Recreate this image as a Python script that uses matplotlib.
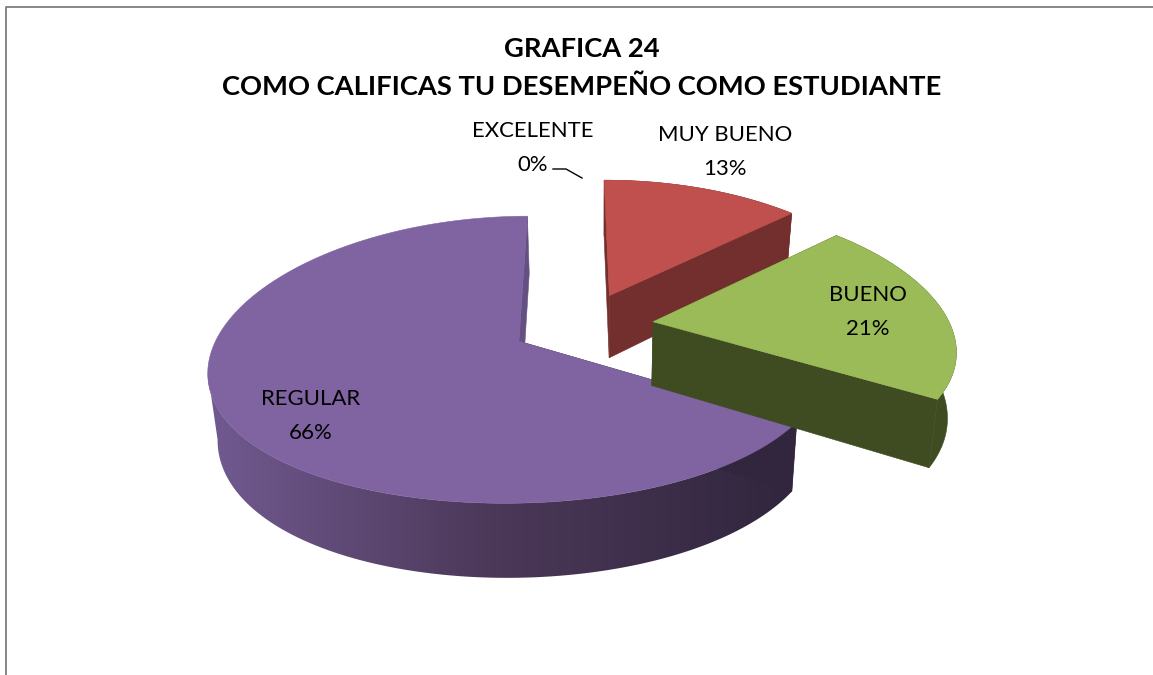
import numpy as np
import matplotlib
matplotlib.use("Agg")
import matplotlib.pyplot as plt
from matplotlib.patches import Polygon
from matplotlib.colors import to_rgb

categories = ["EXCELENTE", "MUY BUENO", "BUENO", "REGULAR"]
values = [0, 13, 21, 66]
title_lines = ["GRAFICA 24", "COMO CALIFICAS TU DESEMPEÑO COMO ESTUDIANTE"]
top_colors = ["#4BACC6", "#BF504D", "#9BBB59", "#8063A1"]
side_colors = ["#2B6A7A", "#722F2D", "#3F4C21", None]
cut_colors = ["#2B6A7A", "#722F2D", "#3F4C21", "#655084"]
label_pos = [(533, 148), (725, 152), (868, 312), (311, 416)]

W, H = 1153, 675
CX, CY, RX, RY, PERSP, PERSP_X, DEPTH, EXPL, BOT_SCALE, BOT_X = 582.5, 325, 297, 137, 0.127, 0.18, 64, 0.24, 0.975, 600
START_ANGLE = 90.3
FONT = "Lato"

fig = plt.figure(figsize=(W / 100, H / 100), dpi=100)
ax = fig.add_axes([0, 0, 1, 1])

ax.plot([5.5, 5.5, W], [H, 6.5, 6.5], color="#868686", lw=1.4, solid_capstyle="butt")


def project(X, Y, bottom=False):
    w = 1 + PERSP * Y
    sx = CX + RX * X / (1 + PERSP_X * Y)
    sy = CY - RY * Y / w
    if bottom:
        sx = BOT_X + (sx - BOT_X) * BOT_SCALE
        sy = sy + DEPTH / w
    return sx, sy


def gradient_image():
    stops_x = [215, 490, 790]
    stops_c = np.array([to_rgb("#70598F"), to_rgb("#4C3859"), to_rgb("#31263E")])
    xs = np.arange(W)
    return np.stack([np.interp(xs, stops_x, stops_c[:, i]) for i in range(3)], axis=-1)[None, :, :]


def draw_slice(start, sweep, top, side, cut):
    mid = np.radians(start - sweep / 2)
    ox, oy = EXPL * np.cos(mid), EXPL * np.sin(mid)
    t = np.radians(np.linspace(start, start - sweep, max(int(sweep), 2) * 2 + 1))
    X, Y = ox + np.cos(t), oy + np.sin(t)
    tx, ty = project(X, Y)
    bx, by = project(X, Y, True)
    ax0, ay0 = project(np.array([ox]), np.array([oy]))
    bx0, by0 = project(np.array([ox]), np.array([oy]), True)
    first_cut = side if side else "#31263E"
    for i, c in ((0, first_cut), (-1, cut)):
        ax.add_patch(Polygon([(ax0[0], ay0[0]), (tx[i], ty[i]), (bx[i], by[i]), (bx0[0], by0[0])],
                             closed=True, fc=c, ec=c, lw=0.4))
    if side:
        rim = np.column_stack([np.r_[tx, bx[::-1]], np.r_[ty, by[::-1]]])
        ax.add_patch(Polygon(rim, closed=True, fc=side, ec=side, lw=0.4))
    else:
        k = max(np.argmin(tx), np.argmin(bx)) + 1
        rim = np.column_stack([np.r_[tx[:k], bx[:k][::-1]], np.r_[ty[:k], by[:k][::-1]]])
        clip = Polygon(rim, closed=True, transform=ax.transData)
        im = ax.imshow(gradient_image(), extent=(0, W, H, 0), aspect="auto", interpolation="bilinear")
        im.set_clip_path(clip)
    ax.add_patch(Polygon(np.column_stack([np.r_[ax0, tx], np.r_[ay0, ty]]), closed=True, fc=top, ec=top, lw=0.4))


starts, acc = [], START_ANGLE
for v in values:
    starts.append(acc)
    acc -= v * 3.6

for i in [1, 3, 2]:
    draw_slice(starts[i], values[i] * 3.6, top_colors[i], side_colors[i], cut_colors[i])

ax.set_xlim(0, W)
ax.set_ylim(H, 0)
ax.axis("off")

for cat, v, (x, y) in zip(categories, values, label_pos):
    ax.text(x, y, f"{cat}\n{v}%", ha="center", va="center", fontsize=15.9, family=FONT,
            color="black", linespacing=1.85)

ax.plot([553, 566, 582], [169, 169, 178], color="black", lw=1.0)

ax.text(582, 68, "\n".join(title_lines), ha="center", va="center", fontsize=19.7, family=FONT,
        fontweight="bold", color="black", linespacing=1.65)

fig.savefig("out.png", dpi=100, facecolor="white")
